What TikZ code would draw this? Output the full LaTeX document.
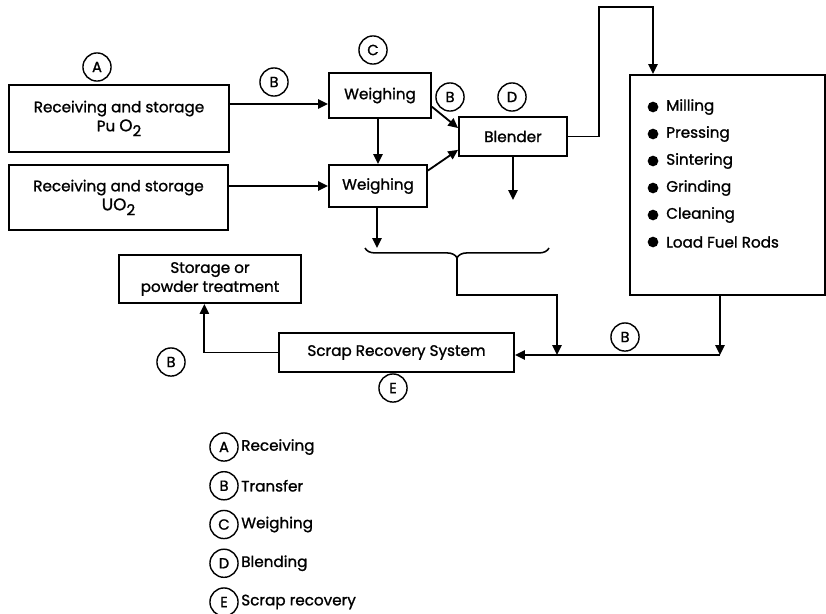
\documentclass[tikz,border=0pt]{standalone}
\usepackage{fontspec}
\setmainfont{Poppins}[UprightFeatures={FakeBold=1.2}]
\usetikzlibrary{arrows,arrows.meta,positioning,decorations.pathreplacing}

\begin{document}
\begin{tikzpicture}[
    x=0.025cm, y=-0.025cm,
    box/.style={draw, line width=1.3pt, align=center, inner sep=0pt,
                font=\fontsize{10.8}{13.5}\selectfont},
    tag/.style={draw, circle, line width=1pt, minimum size=20pt, inner sep=0pt,
                font=\fontsize{10.5}{12}\selectfont},
    flow/.style={line width=1.3pt, -{Triangle[length=7pt,width=6.5pt]}},
    item/.style={anchor=west, inner sep=0pt, font=\fontsize{10.8}{13}\selectfont}
  ]
    \useasboundingbox (0,0) rectangle (826,613);

    % process boxes
    \node[box, minimum width=5.5cm,   minimum height=1.675cm] (puo)   at (119,118.5) {Receiving and storage\\Pu {\large O}\raisebox{-0.6ex}{2}};
    \node[box, minimum width=5.475cm, minimum height=1.625cm] (uo)    at (118.5,197.5) {Receiving and storage\\{\large UO}\raisebox{-0.6ex}{2}};
    \node[box, minimum width=2.55cm,  minimum height=1.125cm] (wa)    at (380,95.5) {Weighing};
    \node[box, minimum width=2.45cm,  minimum height=1.05cm]  (wb)    at (378,186) {Weighing};
    \node[box, minimum width=2.7cm,   minimum height=0.975cm] (blend) at (513,136.5) {Blender};
    \node[box, minimum width=4.875cm, minimum height=5.5cm]   (proc)  at (727.5,185) {};
    \node[box, minimum width=4.55cm,  minimum height=1.2cm]   (store) at (210,279) {Storage or\\powder treatment};
    \node[box, minimum width=5.875cm, minimum height=0.975cm] (scrap) at (396.5,352.5) {Scrap Recovery System};

    % steps inside the fabrication box
    \foreach \t [count=\i from 0] in {Milling, Pressing, Sintering, Grinding, Cleaning, Load Fuel Rods}{
      \fill (653,107+27*\i) circle[radius=3.8pt];
      \node[item] (step\i) at (666,107+27*\i) {\t};
    }

    % letter tags
    \node[tag] (tagA)  at (97,67)   {A};
    \node[tag] (tagB1) at (274,82)  {B};
    \node[tag] (tagC)  at (373,50)  {C};
    \node[tag] (tagB2) at (450,97)  {B};
    \node[tag] (tagD)  at (512,97)  {D};
    \node[tag] (tagB3) at (625,337) {B};
    \node[tag] (tagE)  at (393,388) {E};
    \node[tag] (tagB4) at (171,362) {B};

    \coordinate (wbout)    at (377,248);
    \coordinate (blendout) at (513,200);
    \coordinate (over)     at (653,7);
    \coordinate (brl)      at (365,248);
    \coordinate (brr)      at (549,248);
    \coordinate (brtip)    at (457,258);
    \coordinate (bend)     at (557,295);
    \coordinate (join)     at (720,355);

    % flows
    \draw[flow] (puo.east |- 0,104) -- (wa.west |- 0,104);
    \draw[flow] (uo.east |- wb.west) -- (wb.west);
    \draw[flow] (wa.south -| 378,0) -- (wb.north -| 378,0);
    \draw[flow] ([yshift=-8pt]wa.east) -- ([yshift=6pt]blend.west);
    \draw[flow] ([yshift=11pt]wb.east) -- ([yshift=-9.5pt]blend.west);
    \draw[flow] (blend.east) -- ++(31,0) |- (over) -- (over |- proc.north);
    \draw[flow] (wb.south -| wbout) -- (wbout);
    \draw[flow] (blend.south) -- (blendout);
    \draw[decorate, decoration={brace, amplitude=7pt}, line width=1.1pt] (brr) -- (brl);
    \draw[flow] (brtip) |- (bend) -- (bend |- join);
    \draw[flow] (proc.south -| join) -- (join);
    \draw[flow] (join) -- (join -| scrap.east);
    \draw[flow] (scrap.west) -| ([xshift=-4pt]store.south);

    % key
    \foreach \l/\t [count=\i from 0] in {A/Receiving, B/Transfer, C/Weighing, D/Blending, E/Scrap recovery}{
      \node[tag] (key\l) at (224,447+38.75*\i) {\l};
      \node[item] (keytext\l) at (241,447+38.75*\i) {\t};
    }
  \end{tikzpicture}
\end{document}
